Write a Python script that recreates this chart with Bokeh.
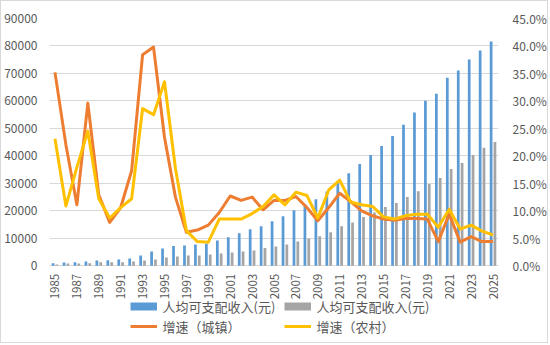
import math
from bokeh.plotting import figure
from bokeh.models import (ColumnDataSource, Range1d, LinearAxis, FixedTicker,
                          PrintfTickFormatter, Legend, LegendItem)
from bokeh.core.properties import value
from bokeh.transform import dodge
from bokeh.embed import file_html
from bokeh.resources import INLINE

years = list(range(1985, 2026))
urban_income = [950, 1200, 1320, 1570, 1930, 2050, 2300, 2660, 3760, 5230, 6320, 7170,
                7420, 7790, 8040, 9250, 10350, 11810, 13270, 14370, 16200, 18030, 20220, 22410, 24240, 27000,
                30500, 33640, 37040, 40330, 43620, 47280, 51300, 55800,
                60070, 62630, 68480, 71040, 75060, 78350, 81640]
rural_income = [480, 840, 840, 950, 1320, 1320, 1320, 1570, 1930, 2300, 3030, 3400,
                3770, 3770, 4130, 4500, 4860, 5230, 5590, 6440, 7060, 7790, 8880, 9980, 10710, 12170,
                14370, 15720, 17780, 19370, 21430, 22890, 25080, 27170,
                29730, 31920, 35210, 37400, 40330, 43000, 45080]
urban_growth = [35.2, 22.0, 11.1, 29.6, 12.9, 7.9, 10.6, 17.3, 38.4, 39.8, 23.4, 12.5,
                6.1, 6.5, 7.4, 9.7, 12.7, 11.9, 12.5, 10.2, 11.9, 11.9, 12.6, 10.6, 8.2, 10.6,
                13.2, 11.7, 10.0, 9.1, 8.5, 8.3, 8.6, 8.6,
                8.5, 4.4, 9.4, 4.3, 5.3, 4.4, 4.4]
rural_growth = [23.1, 10.9, 17.9, 24.5, 12.2, 8.7, 10.6, 12.2, 28.6, 27.5, 33.5, 17.7,
                6.4, 4.4, 4.3, 8.5, 8.5, 8.5, 9.5, 10.8, 12.9, 11.1, 13.4, 12.8, 8.7, 13.8,
                15.6, 11.6, 11.1, 10.8, 8.9, 8.5, 9.1, 9.4,
                9.4, 7.0, 10.3, 6.7, 7.4, 6.3, 5.6]
year_ticks = list(range(1985, 2026, 2))
year_tick_labels = [str(y) for y in year_ticks]
left_ticks = list(range(0, 90001, 10000))
right_ticks = list(range(0, 46, 5))

label_names = ["人均可支配收入(元)", "人均可支配收入(元)", "增速（城镇）", "增速（农村）"]

BLUE, GRAY, ORANGE, YELLOW = "#5B9BD5", "#A5A5A5", "#ED7D31", "#FFC000"
TXT = "#595959"
GRID = "#D9D9D9"
FONT = "Noto Sans CJK SC"

# layout geometry (pixels)
W, H = 548, 343
BL, BR, BT, BB = 45, 46, 17, 2
frame_h = H - BT - BB
zero_px = 247.3                      # pixel distance from top of frame to value 0
y_max = 90000
y_min = -y_max * (frame_h - zero_px) / zero_px
pct_max = 45
pct_min = y_min * pct_max / y_max
x_lo, x_hi = years[0] - 0.5, years[-1] + 0.5

src = ColumnDataSource(dict(year=years, urban=urban_income, rural=rural_income,
                            ug=urban_growth, rg=rural_growth))

p = figure(width=W, height=H, output_backend="svg", toolbar_location=None,
           x_range=Range1d(x_lo, x_hi), y_range=Range1d(y_min, y_max),
           x_axis_location=None,
           min_border_left=BL, min_border_right=BR, min_border_top=BT, min_border_bottom=BB,
           styles={"border": "1px solid #D9D9D9"})
p.extra_y_ranges = {"pct": Range1d(pct_min, pct_max)}
p.outline_line_color = None
p.background_fill_color = "white"
p.border_fill_color = "white"

p.vbar(x=dodge("year", -0.175), top="urban", width=0.25, source=src,
       fill_color=BLUE, line_color=None)
p.vbar(x=dodge("year", 0.175), top="rural", width=0.25, source=src,
       fill_color=GRAY, line_color=None)
l1 = p.line("year", "ug", source=src, y_range_name="pct", line_color=ORANGE,
            line_width=3, line_join="round")
l2 = p.line("year", "rg", source=src, y_range_name="pct", line_color=YELLOW,
            line_width=3, line_join="round")

# year labels under the category axis
p.text(x=year_ticks, y=[0] * len(year_ticks), text=year_tick_labels, angle=math.pi / 2,
       y_offset=8, text_align="right", text_baseline="middle",
       text_font=value(FONT), text_font_size="11.5px", text_color=TXT)

p.xgrid.grid_line_color = None
p.ygrid.grid_line_color = GRID
p.ygrid.ticker = FixedTicker(ticks=left_ticks)

ay = p.yaxis[0]
ay.ticker = FixedTicker(ticks=left_ticks)
ay.formatter = PrintfTickFormatter(format="%d")
ay.axis_line_color = None
ay.major_tick_line_color = None
ay.minor_tick_line_color = None
ay.major_label_text_color = TXT
ay.major_label_text_font = FONT
ay.major_label_text_font_size = "12px"
ay.major_label_standoff = 6

ry = LinearAxis(y_range_name="pct", ticker=FixedTicker(ticks=right_ticks),
                formatter=PrintfTickFormatter(format="%.1f%%"))
ry.axis_line_color = None
ry.major_tick_line_color = None
ry.minor_tick_line_color = None
ry.major_label_text_color = TXT
ry.major_label_text_font = FONT
ry.major_label_text_font_size = "12px"
ry.major_label_standoff = 8
p.add_layout(ry, "right")

# legend swatches for the bar series: thick short lines placed outside the visible x range
off = [x_lo - 5, x_lo - 4]
sw1 = p.line(x=off, y=[0, 0], line_color=BLUE, line_width=8, line_cap="butt")
sw2 = p.line(x=off, y=[0, 0], line_color=GRAY, line_width=8, line_cap="butt")

legend = Legend(items=[LegendItem(label=label_names[0], renderers=[sw1]),
                       LegendItem(label=label_names[1], renderers=[sw2]),
                       LegendItem(label=label_names[2], renderers=[l1]),
                       LegendItem(label=label_names[3], renderers=[l2])],
                orientation="horizontal", ncols=2, location=(80.5, 6))
legend.label_text_font = FONT
legend.label_text_font_size = "13px"
legend.label_text_color = TXT
legend.glyph_width = 27
legend.glyph_height = 20
legend.label_standoff = 6
legend.label_width = 121
legend.spacing = 0
legend.padding = 0
legend.margin = 0
legend.border_line_color = None
legend.background_fill_alpha = 0
p.add_layout(legend, "center")

open("out.html", "w").write(file_html(p, INLINE))
